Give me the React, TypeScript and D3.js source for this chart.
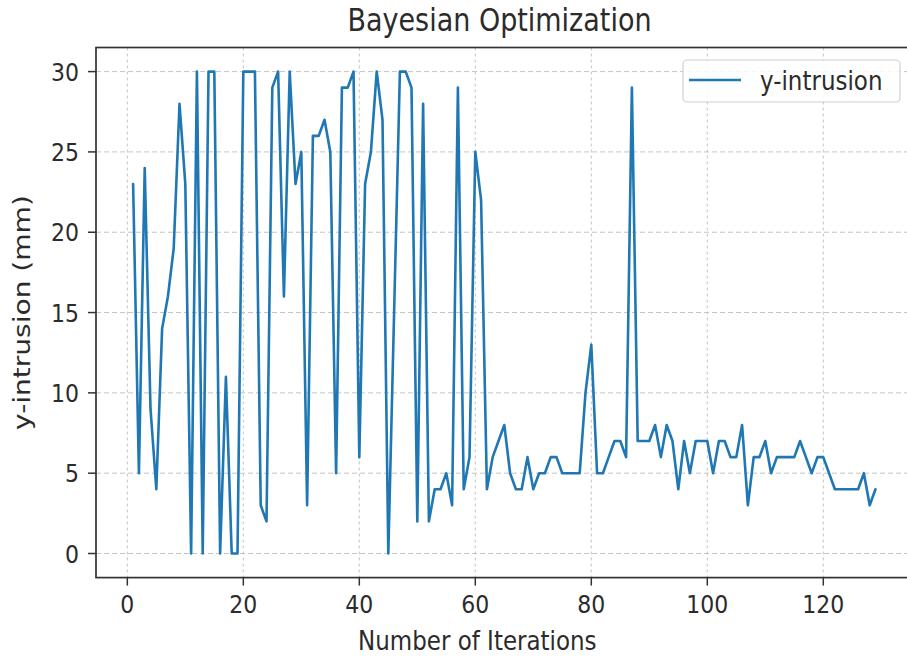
import React from 'react';
import * as d3 from 'd3';

// y-intrusion (mm) per iteration, iterations start at 1
const intrusion = [
  23, 5, 24, 9, 4, 14, 16, 19, 28, 23,
  0, 30, 0, 30, 30, 0, 11, 0, 0, 30,
  30, 30, 3, 2, 29, 30, 16, 30, 23, 25,
  3, 26, 26, 27, 25, 5, 29, 29, 30, 6,
  23, 25, 30, 27, 0, 15, 30, 30, 29, 2,
  28, 2, 4, 4, 5, 3, 29, 4, 6, 25,
  22, 4, 6, 7, 8, 5, 4, 4, 6, 4,
  5, 5, 6, 6, 5, 5, 5, 5, 10, 13,
  5, 5, 6, 7, 7, 6, 29, 7, 7, 7,
  8, 6, 8, 7, 4, 7, 5, 7, 7, 7,
  5, 7, 7, 6, 6, 8, 3, 6, 6, 7,
  5, 6, 6, 6, 6, 7, 6, 5, 6, 6,
  5, 4, 4, 4, 4, 4, 5, 3, 4,
];
const xTicks = [0, 20, 40, 60, 80, 100, 120];
const yTicks = [0, 5, 10, 15, 20, 25, 30];
const seriesName = 'y-intrusion';

const W = 907;
const H = 657;
const font = 'DejaVu Sans, sans-serif';
const blue = '#1f77b4';
const ink = '#2b2b2b';
// the source picture is a bit taller than wide, text looks stretched vertically
const stretch = 1.15;

const Txt = (p: { x: number; y: number; size: number; anchor?: string; children: any; dy?: string }) => (
  <text transform={`translate(${p.x},${p.y}) scale(1,${stretch})`} dy={p.dy}
    textAnchor={p.anchor || 'start'} fontFamily={font} fontSize={p.size} fill={ink}>
    {p.children}
  </text>
);

export default function App() {
  const x = d3.scaleLinear().domain([-5.4, 135.4]).range([96, 912.6]);
  const y = d3.scaleLinear().domain([-1.5, 31.5]).range([577.6, 47.5]);
  const [x0, x1] = x.range();
  const [y0, y1] = y.range();

  const line = d3.line<number>()
    .x((d, i) => x(i + 1))
    .y((d) => y(d));

  return (
    <svg width={W} height={H} style={{ position: 'absolute', left: 0, top: 0, background: '#fff' }}>
      {/* grid */}
      {xTicks.map((t) => (
        <line key={'gx' + t} x1={x(t)} x2={x(t)} y1={y1} y2={y0}
          stroke="#c4c4c4" strokeWidth={1} strokeDasharray="3,3" />
      ))}
      {yTicks.map((t) => (
        <line key={'gy' + t} x1={x0} x2={x1} y1={y(t)} y2={y(t)}
          stroke="#c4c4c4" strokeWidth={1} strokeDasharray="5,3" />
      ))}

      <path d={line(intrusion) || ''} fill="none" stroke={blue} strokeWidth={2.6}
        strokeLinejoin="round" strokeLinecap="round" />

      {/* spines */}
      <rect x={x0} y={y1} width={x1 - x0} height={y0 - y1} fill="none" stroke="#333" strokeWidth={1.7} />

      {/* ticks */}
      {xTicks.map((t) => (
        <g key={'tx' + t}>
          <line x1={x(t)} x2={x(t)} y1={y0} y2={y0 + 8} stroke="#333" strokeWidth={1.5} />
          <Txt x={x(t)} y={y0 + 35} size={22} anchor="middle">{t}</Txt>
        </g>
      ))}
      {yTicks.map((t) => (
        <g key={'ty' + t}>
          <line x1={x0 - 8} x2={x0} y1={y(t)} y2={y(t)} stroke="#333" strokeWidth={1.5} />
          <Txt x={x0 - 17} y={y(t)} dy="0.36em" size={22} anchor="end">{t}</Txt>
        </g>
      ))}

      {/* labels */}
      <Txt x={(x0 + 907) / 2 - 2} y={31} size={27} anchor="middle">Bayesian Optimization</Txt>
      <Txt x={x(60) + 2} y={650} size={23} anchor="middle">Number of Iterations</Txt>
      <text transform={`translate(30,${(y0 + y1) / 2}) rotate(-90) scale(1.22,1)`} textAnchor="middle"
        fontFamily={font} fontSize={23} fill={ink}>y-intrusion (mm)</text>

      {/* legend */}
      <g>
        <rect x={683} y={60} width={217} height={42} rx={4} fill="#fff" fillOpacity={0.85} stroke="#d0d0d0" strokeWidth={1.2} />
        <line x1={689} x2={741} y1={80} y2={80} stroke={blue} strokeWidth={2.6} />
        <Txt x={760} y={80} dy="0.36em" size={23}>{seriesName}</Txt>
      </g>
    </svg>
  );
}
